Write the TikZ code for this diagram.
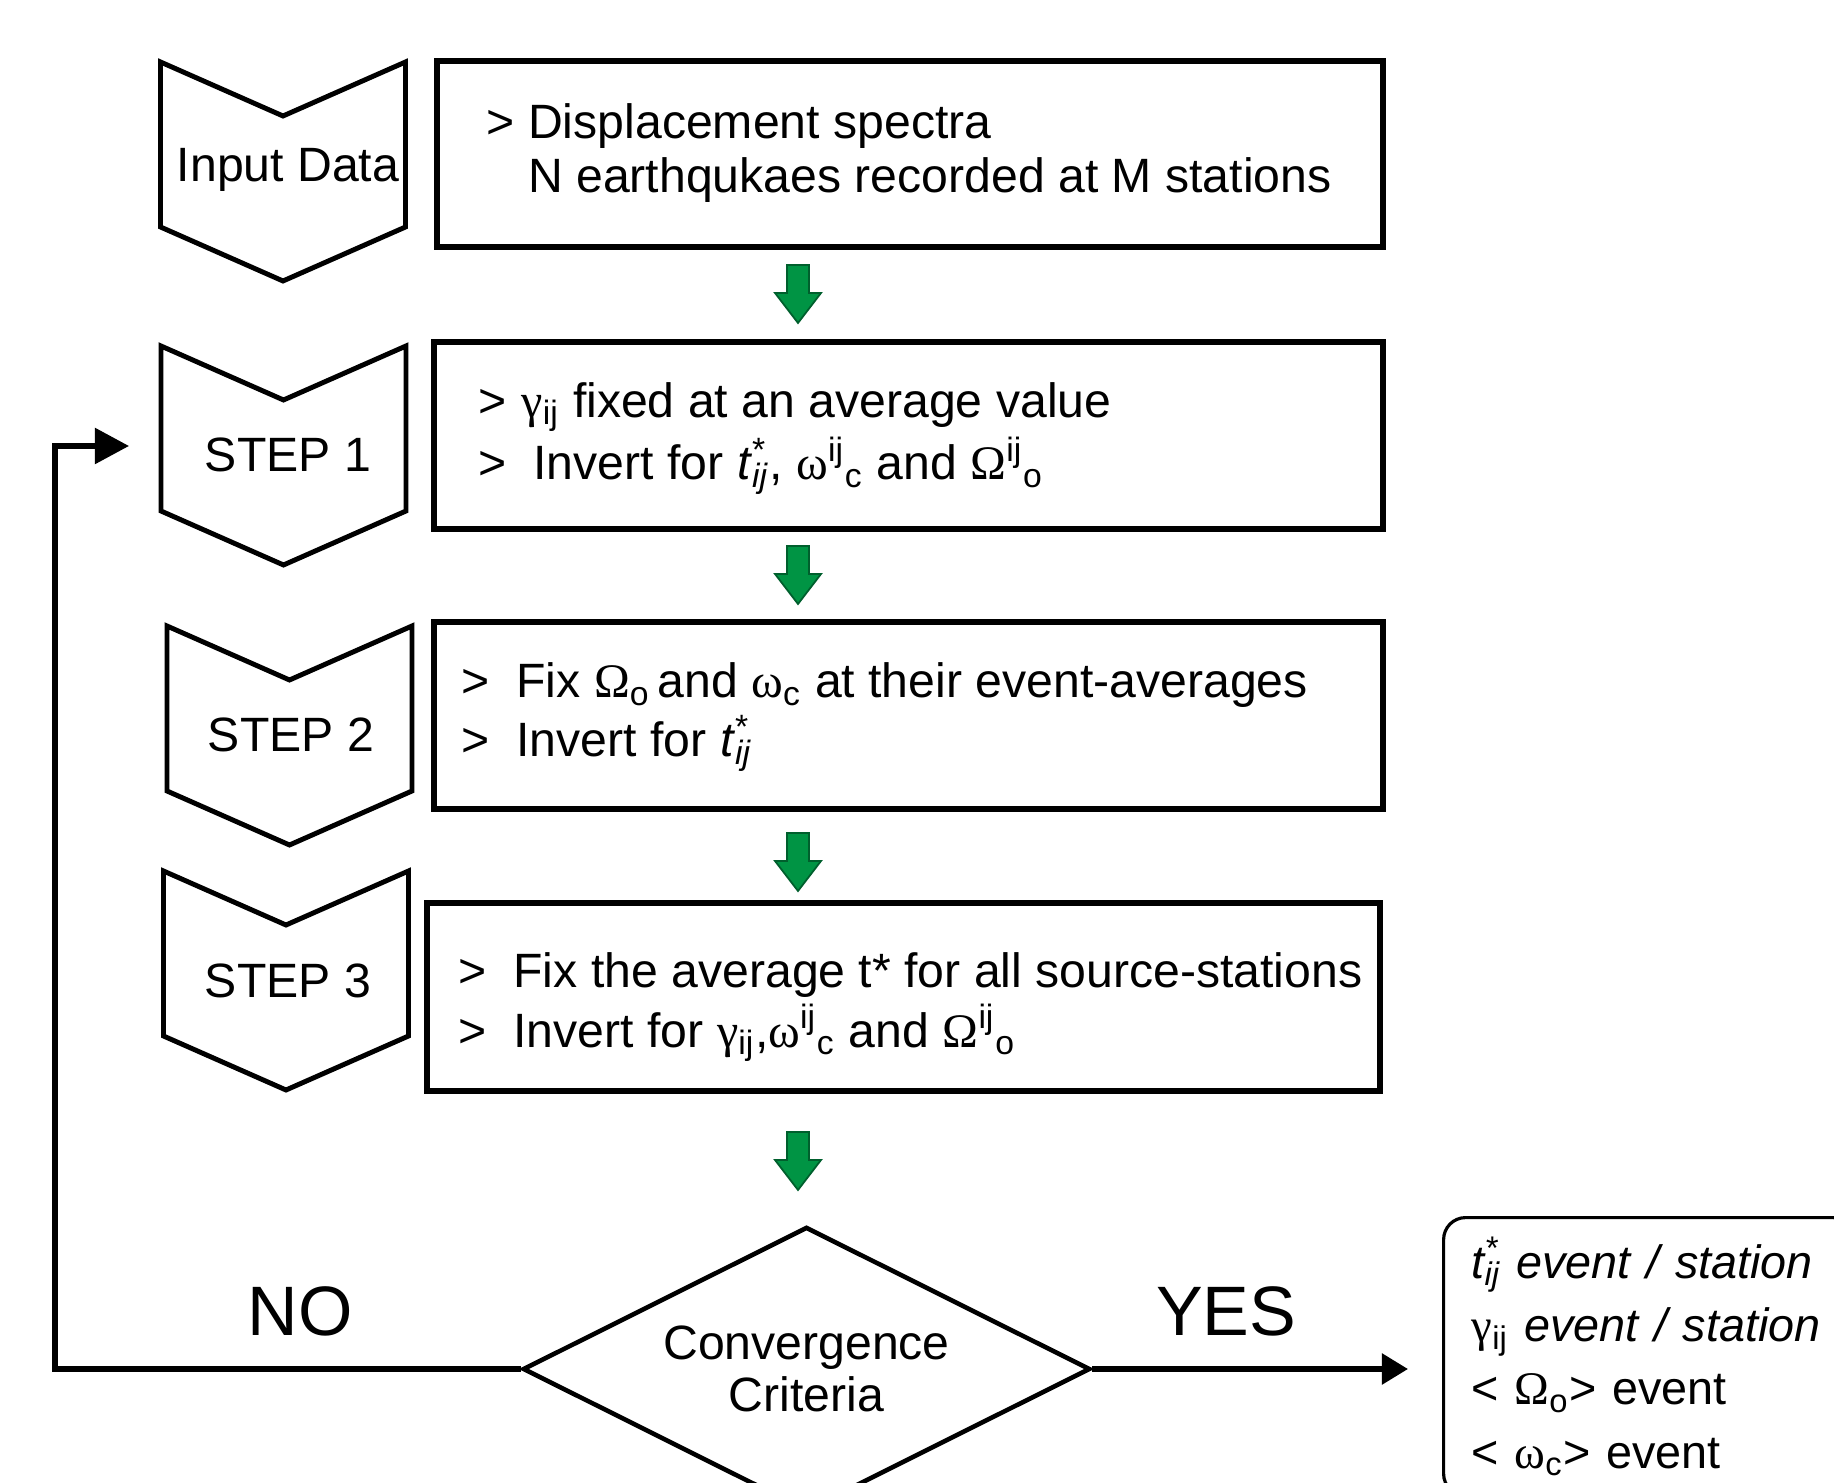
\documentclass[tikz,border=0pt]{standalone}
\usepackage{fontspec}
\setmainfont{Liberation Sans}
\newfontfamily\grk{Liberation Serif}
\usepackage{tikz}
\usetikzlibrary{calc}
\usetikzlibrary{arrows.meta}
\usetikzlibrary{shapes.geometric}

\definecolor{stepgreen}{RGB}{0,148,68}
\definecolor{stepgreenedge}{RGB}{0,95,45}

\newcommand{\gtlead}[1][15.6pt]{\makebox[#1][l]{>}}
\newcommand{\supsub}[2]{\rlap{\textsuperscript{#1}}\textsubscript{#2}}

\begin{document}
\begin{tikzpicture}[x=0.01cm, y=-0.01cm,
    every node/.style={inner sep=0pt},
    txt/.style={font=\fontsize{13.7}{16.8}\selectfont, align=left, anchor=base west},
    chev/.style={line width=1.4pt, line join=miter},
    chevtext/.style={font=\fontsize{13.7}{16}\selectfont, anchor=base},
    box/.style={draw, line width=1.6pt},
    decision/.style={draw, diamond, aspect=2, line width=1.3pt, align=center, minimum width=5.67cm, minimum height=2.84cm, font=\fontsize{13.7}{14.8}\selectfont},
    flow/.style={line width=1.55pt, line join=miter},
    answer/.style={font=\fontsize{19.9}{22}\selectfont, anchor=base},
    resbox/.style={draw, line width=0.9pt, rounded corners=0.22cm, align=left, text width=3.55cm, inner xsep=0.28cm, minimum height=2.78cm, font=\fontsize{13.3}{18}\selectfont},
    greenarrow/.style={fill=stepgreen, draw=stepgreenedge, line width=0.5pt, line join=miter}]

    \useasboundingbox (0,0) rectangle (1834,1483);
    \clip (0,0) rectangle (1834,1483);

    % ---------------- Left: chevrons ----------------
    \foreach \cx/\ty in {283/62, 283.5/346, 289.5/626, 286/871}
        \draw[chev] ({\cx-122.5},\ty) -- (\cx,{\ty+54}) -- ({\cx+122.5},\ty) -- ({\cx+122.5},{\ty+165})
            -- (\cx,{\ty+219}) -- ({\cx-122.5},{\ty+165}) -- cycle;

    \node[chevtext] (indata) at (288,182) {Input Data};
    \node[chevtext] (step1) at (288,472) {STEP 1};
    \node[chevtext] (step2) at (291,752) {STEP 2};
    \node[chevtext] (step3) at (288,997) {STEP 3};

    % ---------------- Right: boxes ----------------
    \node[box, minimum width=9.46cm, minimum height=1.86cm] (inbox) at (910,154) {};
    \node[box, minimum width=9.49cm, minimum height=1.87cm] (s1box) at (908.5,435.5) {};
    \node[box, minimum width=9.49cm, minimum height=1.87cm] (s2box) at (908.5,715.5) {};
    \node[box, minimum width=9.53cm, minimum height=1.88cm] (s3box) at (903.5,997) {};

    % (base of a two-line node = baseline of its last line)
    \node[txt, font=\fontsize{13.7}{15.4}\selectfont] (intext) at (486,193)
        {> Displacement spectra\\\phantom{> }N earthqukaes recorded at M stations};
    \node[txt, font=\fontsize{13.7}{17.9}\selectfont] (s1text) at (478,480)
        {\gtlead[12.2pt]{\grk γ}\textsubscript{ij} fixed at an average value\\
         \gtlead Invert for \textit{t}\supsub{*}{\textit{ij}}, {\grk ω}\textsuperscript{ij}\textsubscript{c} and {\grk Ω}\textsuperscript{ij}\textsubscript{o}};
    \node[txt] (s2text) at (461,757)
        {\gtlead Fix {\grk Ω}\textsubscript{o}\kern2pt and {\grk ω}\textsubscript{c} at their event-averages\\
         \gtlead Invert for \textit{t}\supsub{*}{\textit{ij}}};
    \node[txt] (s3text) at (458,1047)
        {\gtlead Fix the average t* for all source-stations\\
         \gtlead Invert for {\grk γ}\textsubscript{ij},{\grk ω}\textsuperscript{ij}\textsubscript{c} and {\grk Ω}\textsuperscript{ij}\textsubscript{o}};

    % green block arrows
    \foreach \ay in {265,546,833,1132}
        \draw[greenarrow] (787,\ay) -- (809,\ay) -- (809,{\ay+28}) -- (821,{\ay+28}) -- (798,{\ay+58})
            -- (775,{\ay+28}) -- (787,{\ay+28}) -- cycle;

    % ---------------- Bottom: convergence test ----------------
    \node[decision] (conv) at (806.5,1369) {Convergence\\Criteria};

    \node[resbox, anchor=north west] (res) at (1442,1216)
        {\mbox{\itshape t\supsub{*}{ij} event / station}\\
         \mbox{{\grk γ}\textsubscript{ij} \textit{event / station}}\\
         \mbox{< {\grk Ω}\textsubscript{o}> event}\\
         \mbox{< {\grk ω}\textsubscript{c}> event}};

    % feedback loop and exit
    \coordinate (loopturn) at (55,446);
    \coordinate (loopin) at (129,446);
    \draw[flow, -{Triangle[length=0.34cm, width=0.35cm]}] (conv.west) -| (loopturn) -- (loopin);
    \draw[flow, -{Triangle[length=0.26cm, width=0.30cm]}, shorten >=0.34cm] (conv.east) -- (conv.east -| res.west);

    \node[answer] (no) at (300,1335) {NO};
    \node[answer] (yes) at (1226,1335) {YES};
\end{tikzpicture}
\end{document}
